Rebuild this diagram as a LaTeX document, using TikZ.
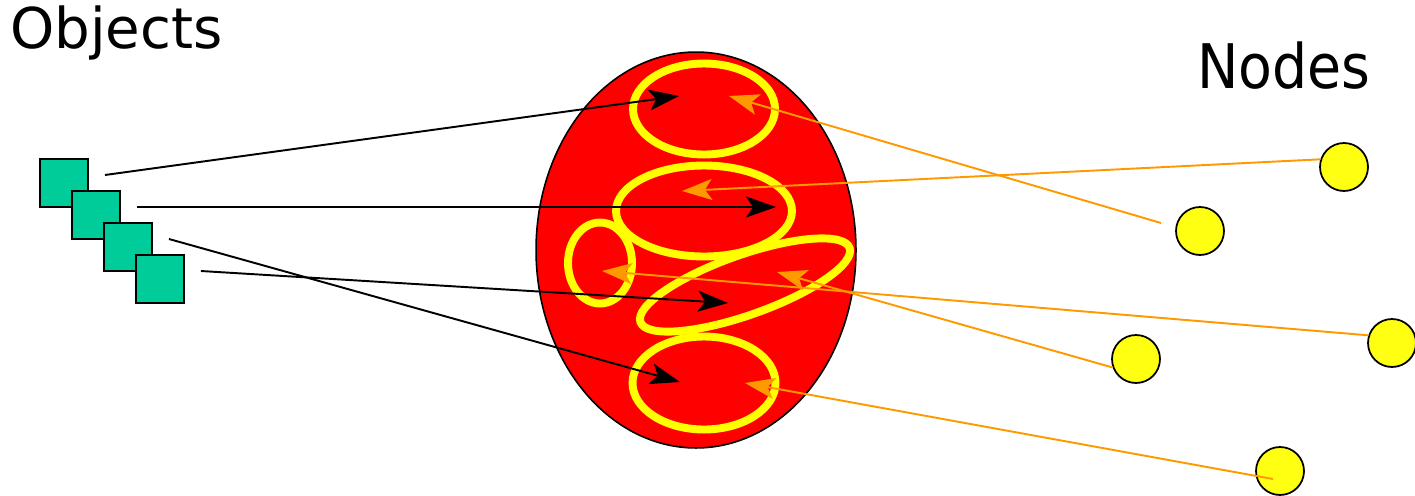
\documentclass[tikz,border=0pt]{standalone}
\usepackage{fontspec}
\usepackage{graphicx}
\setmainfont{DejaVu Sans}
\usetikzlibrary{arrows.meta, shapes.geometric}
\definecolor{objgreen}{HTML}{00CC99}
\definecolor{cellred}{HTML}{FF0000}
\definecolor{grpyellow}{HTML}{FFFF00}
\definecolor{peeryellow}{HTML}{FFFF11}
\definecolor{hookorange}{HTML}{FF9900}

\begin{document}
\begin{tikzpicture}[x=0.02cm, y=0.02cm,
    obj/.style={rectangle, draw=black, line width=1.1pt, fill=objgreen,
                minimum size=0.96cm, inner sep=0pt},
    cell/.style={ellipse, draw=black, line width=0.9pt, fill=cellred,
                 minimum width=6.4cm, minimum height=7.92cm, inner sep=0pt},
    grp/.style={ellipse, draw=grpyellow, line width=4.5pt, inner sep=0pt},
    peer/.style={circle, draw=black, line width=1pt, fill=peeryellow,
                 minimum size=0.96cm, inner sep=0pt},
    tip/.style={-{Stealth[length=0.6cm, width=0.42cm, inset=0.14cm]}},
    link/.style={tip, draw=black, line width=1.1pt},
    hook/.style={tip, draw=hookorange, line width=1.1pt},
    title/.style={anchor=base west, inner sep=0pt}]
  \useasboundingbox (0,0) rectangle (1415,495);

  \node[title, font=\fontsize{32}{32}\selectfont] (objlabel) at (10,447) {Objects};
  \node[title, font=\fontsize{35}{35}\selectfont] (nodelabel) at (1197,407)
    {\scalebox{0.9}[1]{Nodes}};

  % the cell and its groups
  \node[cell] (cell) at (696,245) {};
  \node[grp, minimum width=2.84cm, minimum height=1.82cm] (grp1) at (704,386) {};
  \node[grp, minimum width=3.52cm, minimum height=1.82cm] (grp2) at (704,284) {};
  \node[grp, minimum width=1.28cm, minimum height=1.62cm] (grp3) at (600,232) {};
  \node[grp, minimum width=4.44cm, minimum height=1.2cm, rotate=19.5] (grp4) at (745,210) {};
  \node[grp, minimum width=2.86cm, minimum height=1.86cm] (grp5) at (704,112) {};

  % objects
  \foreach \i in {1,...,4}
    \node[obj] (sq\i) at ({32+32*\i},{344-32*\i}) {};

  % nodes
  \node[peer] (n1) at (1200,264) {};
  \node[peer] (n2) at (1344,328) {};
  \node[peer] (n3) at (1392,152) {};
  \node[peer] (n4) at (1136,136) {};
  \node[peer] (n5) at (1280,24) {};

  % free ends
  \foreach \i in {1,...,4}
    \coordinate (t\i) at ([shift={(16,8)}]sq\i.east);
  \coordinate (h1) at (679,399);
  \coordinate (h2) at (776,288);
  \coordinate (h3) at (680,113);
  \coordinate (h4) at (728,192);
  \coordinate (k1) at (729,399);
  \coordinate (k2) at (682,304);
  \coordinate (k3) at (602,224);
  \coordinate (k4) at (777,223);
  \coordinate (k5) at (745,112);
  \coordinate (e1) at (1161,272);
  \coordinate (e5) at (1273,16);

  % objects into groups
  \draw[link] (t1) -- (h1);
  \draw[link] (t2) -- (h2);
  \draw[link] (t3) -- (h3);
  \draw[link] (t4) -- (h4);

  % nodes into groups
  \draw[hook] (e1) -- (k1);
  \draw[hook] (n2.162) -- (k2);
  \draw[hook] (n3.162) -- (k3);
  \draw[hook] (n4.200) -- (k4);
  \draw[hook] (e5) -- (k5);
\end{tikzpicture}
\end{document}
